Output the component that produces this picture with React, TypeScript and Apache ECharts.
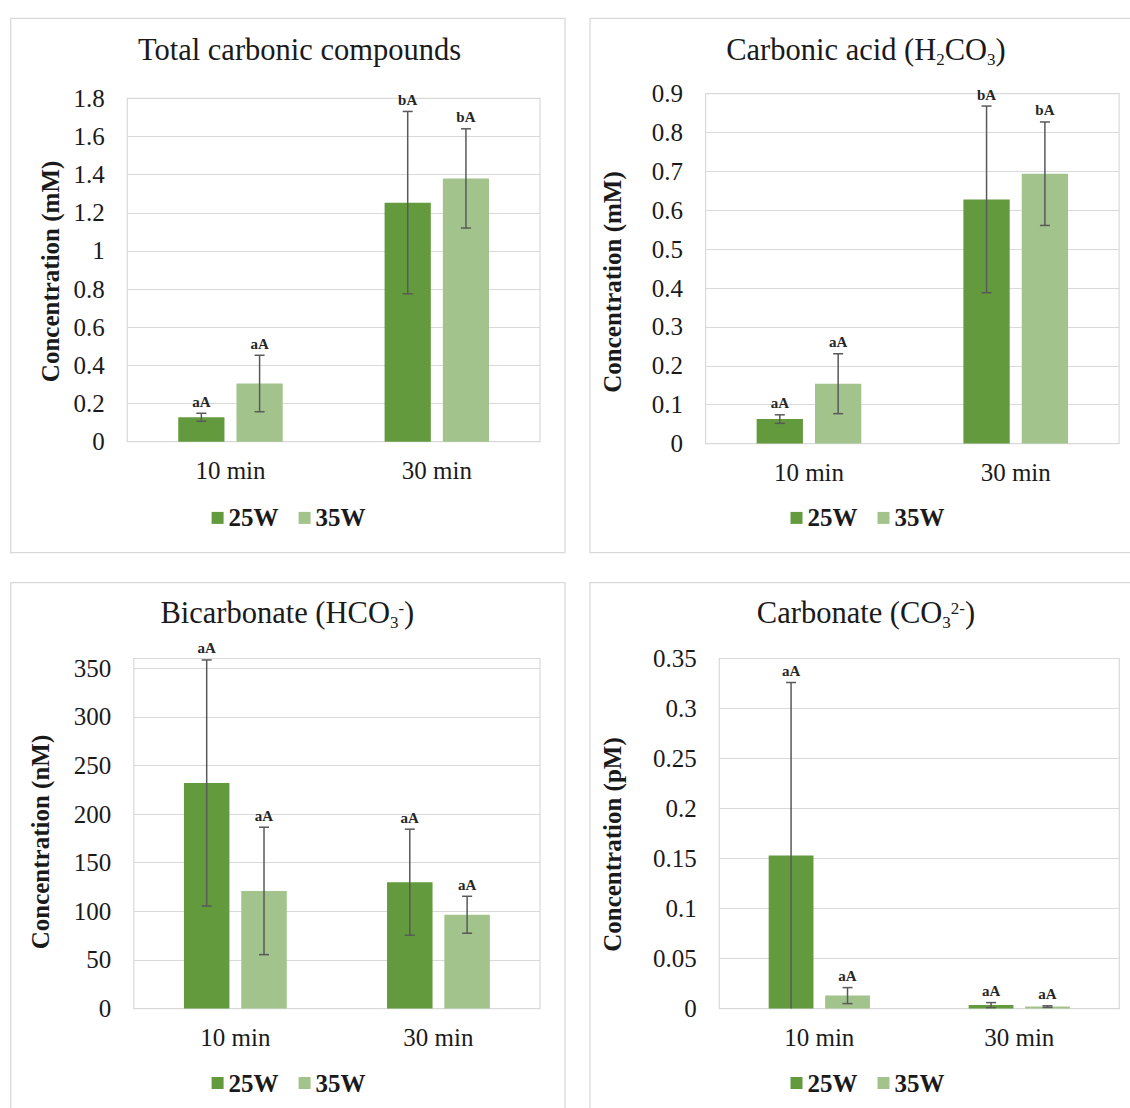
import React, { useEffect, useRef } from "react";
import * as echarts from "echarts";

// ---- data ----
const categories = ["10 min", "30 min"];
const seriesNames = ["25W", "35W"];

// Total carbonic compounds (mM)
const total25 = [0.128, 1.253];
const total25Err = [0.021, 0.478];
const total35 = [0.305, 1.38];
const total35Err = [0.148, 0.26];
const totalSig25 = ["aA", "bA"];
const totalSig35 = ["aA", "bA"];

// Carbonic acid H2CO3 (mM)
const acid25 = [0.063, 0.628];
const acid25Err = [0.011, 0.24];
const acid35 = [0.154, 0.694];
const acid35Err = [0.077, 0.133];
const acidSig25 = ["aA", "bA"];
const acidSig35 = ["aA", "bA"];

// Bicarbonate HCO3- (nM)
const bic25 = [232, 130];
const bic25Err = [126.5, 54.5];
const bic35 = [121, 96.5];
const bic35Err = [65.5, 19];
const bicSig25 = ["aA", "aA"];
const bicSig35 = ["aA", "aA"];

// Carbonate CO3 2- (pM)
const car25 = [0.153, 0.0035];
const car25Err = [0.173, 0.0025];
const car35 = [0.013, 0.002];
const car35Err = [0.008, 0.0008];
const carSig25 = ["aA", "aA"];
const carSig35 = ["aA", "aA"];

// ---- style ----
const SERIF = "'Liberation Serif', 'Times New Roman', serif";
const DARK = "#639a3e";
const LIGHT = "#a2c48c";
const INK = "#1a1a1a";
const RULE = "#d9d9d9";
const BAR_FRAC = 0.224;
const GAP_FRAC = 0.26;

type Panel = {
  grid: { left: number; top: number; width: number; height: number };
  yMax: number;
  yStep: number;
  yLabelMax: number;
  v25: number[];
  e25: number[];
  v35: number[];
  e35: number[];
  s25: string[];
  s35: string[];
  legend: { left: number; top: number };
};

const panels: Panel[] = [
  {
    grid: { left: 127.3, top: 98.3, width: 412.7, height: 343.4 },
    yMax: 1.8, yStep: 0.2, yLabelMax: 1.8,
    v25: total25, e25: total25Err, v35: total35, e35: total35Err,
    s25: totalSig25, s35: totalSig35,
    legend: { left: 211.6, top: 505.4 },
  },
  {
    grid: { left: 705.6, top: 93.6, width: 413.5, height: 350 },
    yMax: 0.9, yStep: 0.1, yLabelMax: 0.9,
    v25: acid25, e25: acid25Err, v35: acid35, e35: acid35Err,
    s25: acidSig25, s35: acidSig35,
    legend: { left: 790.5, top: 505.4 },
  },
  {
    grid: { left: 133.8, top: 658.5, width: 406.2, height: 350.1 },
    yMax: 360, yStep: 50, yLabelMax: 350,
    v25: bic25, e25: bic25Err, v35: bic35, e35: bic35Err,
    s25: bicSig25, s35: bicSig35,
    legend: { left: 211.6, top: 1070.5 },
  },
  {
    grid: { left: 719.3, top: 658.5, width: 400, height: 350.1 },
    yMax: 0.35, yStep: 0.05, yLabelMax: 0.35,
    v25: car25, e25: car25Err, v35: car35, e35: car35Err,
    s25: carSig25, s35: carSig35,
    legend: { left: 790.5, top: 1070.5 },
  },
];

function errorSeries(idx: number, values: number[], errs: number[], sigs: string[], side: number) {
  return {
    type: "custom",
    xAxisIndex: idx,
    yAxisIndex: idx,
    z: 5,
    silent: true,
    data: values.map((v, i) => [i, v, errs[i]]),
    renderItem: (params: any, api: any) => {
      const i = api.value(0);
      const v = api.value(1);
      const e = api.value(2);
      const band = api.size([1, 0])[0];
      const cx = api.coord([i, 0])[0] + (side * band * BAR_FRAC * (1 + GAP_FRAC)) / 2;
      const yTop = api.coord([i, v + e])[1];
      const low = v - e;
      const yBot = api.coord([i, Math.max(low, 0)])[1];
      const st = { stroke: "#595959", lineWidth: 1.5 };
      const children: any[] = [
        { type: "line", shape: { x1: cx, y1: yTop, x2: cx, y2: yBot }, style: st },
        { type: "line", shape: { x1: cx - 5, y1: yTop, x2: cx + 5, y2: yTop }, style: st },
      ];
      if (low >= 0) {
        children.push({ type: "line", shape: { x1: cx - 5, y1: yBot, x2: cx + 5, y2: yBot }, style: st });
      }
      children.push({
        type: "text",
        x: cx,
        y: yTop - 4,
        style: {
          text: sigs[params.dataIndex],
          font: `bold 15px ${SERIF}`,
          fill: "#262626",
          align: "center",
          verticalAlign: "bottom",
          textAlign: "center",
          textVerticalAlign: "bottom",
        },
      });
      return { type: "group", children };
    },
  };
}

// title rich styles: n = normal, b = subscript, p = superscript
const richBase = {
  n: { fontSize: 30.5, fontFamily: SERIF, fill: INK, color: INK, lineHeight: 36 },
  b: { fontSize: 17, fontFamily: SERIF, fill: INK, color: INK, verticalAlign: "bottom" },
  p: { fontSize: 17, fontFamily: SERIF, fill: INK, color: INK, verticalAlign: "top", padding: [4.5, 0, 0, 0] },
};

function titleText(x: number, y: number, text: string) {
  return {
    type: "text",
    x,
    y,
    style: {
      text,
      rich: richBase,
      align: "center",
      verticalAlign: "middle",
      textAlign: "center",
      textVerticalAlign: "middle",
    },
  };
}

function yTitle(x: number, y: number, text: string) {
  return {
    type: "text",
    x,
    y,
    rotation: Math.PI / 2,
    style: {
      text,
      font: `bold 25px ${SERIF}`,
      fill: INK,
      align: "center",
      verticalAlign: "middle",
      textAlign: "center",
      textVerticalAlign: "middle",
    },
  };
}

function frame(x: number, y: number, w: number, h: number) {
  return {
    type: "rect",
    shape: { x, y, width: w, height: h },
    style: { fill: "none", stroke: RULE, lineWidth: 1.3 },
    z: -10,
  };
}

function buildOption() {
  const series: any[] = [];
  panels.forEach((p, idx) => {
    series.push({
      type: "bar",
      name: seriesNames[0],
      xAxisIndex: idx,
      yAxisIndex: idx,
      data: p.v25,
      barWidth: `${BAR_FRAC * 100}%`,
      barGap: `${GAP_FRAC * 100}%`,
      itemStyle: { color: DARK },
      silent: true,
    });
    series.push({
      type: "bar",
      name: seriesNames[1],
      xAxisIndex: idx,
      yAxisIndex: idx,
      data: p.v35,
      barWidth: `${BAR_FRAC * 100}%`,
      barGap: `${GAP_FRAC * 100}%`,
      itemStyle: { color: LIGHT },
      silent: true,
    });
    series.push(errorSeries(idx, p.v25, p.e25, p.s25, -1));
    series.push(errorSeries(idx, p.v35, p.e35, p.s35, 1));
  });

  return {
    animation: false,
    backgroundColor: "#ffffff",
    grid: panels.map((p) => ({
      ...p.grid,
      show: true,
      borderColor: RULE,
      borderWidth: 1.2,
      backgroundColor: "#ffffff",
      containLabel: false,
    })),
    xAxis: panels.map((_, idx) => ({
      type: "category",
      gridIndex: idx,
      data: categories,
      axisTick: { show: false },
      axisLine: { show: true, lineStyle: { color: RULE, width: 1.2 } },
      axisLabel: { fontFamily: SERIF, fontSize: 25, color: INK, margin: 16 },
    })),
    yAxis: panels.map((p, idx) => ({
      type: "value",
      gridIndex: idx,
      min: 0,
      max: p.yMax,
      interval: p.yStep,
      axisLine: { show: false },
      axisTick: { show: false },
      splitLine: { show: true, lineStyle: { color: RULE, width: 1.2 } },
      axisLabel: {
        fontFamily: SERIF,
        fontSize: 25,
        color: INK,
        margin: 22.5,
        formatter: (v: number) => (v > p.yLabelMax + 1e-9 ? "" : String(Number(v.toFixed(4)))),
      },
    })),
    legend: panels.map((p) => ({
      data: seriesNames,
      left: p.legend.left,
      top: p.legend.top,
      padding: 0,
      orient: "horizontal",
      icon: "rect",
      itemWidth: 12,
      itemHeight: 12,
      itemGap: 20,
      selectedMode: false,
      textStyle: { fontFamily: SERIF, fontSize: 25, fontWeight: "bold", color: INK },
    })),
    graphic: [
      frame(10.7, 18.3, 554.3, 534.4),
      frame(590, 18.3, 570, 534.4),
      frame(10.7, 582.7, 554.3, 560),
      frame(590, 582.7, 570, 560),
      titleText(299.5, 50, "{n|Total carbonic compounds}"),
      titleText(866, 50, "{n|Carbonic acid (H}{b|2}{n|CO}{b|3}{n|)}"),
      titleText(287.3, 613.3, "{n|Bicarbonate (HCO}{b|3}{p|-}{n|)}"),
      titleText(866, 613.3, "{n|Carbonate (CO}{b|3}{p|2-}{n|)}"),
      yTitle(50.7, 271.4, "Concentration (mM)"),
      yTitle(612.6, 282, "Concentration (mM)"),
      yTitle(40.3, 842, "Concentration (nM)"),
      yTitle(612.6, 844.5, "Concentration (pM)"),
    ],
    series,
  };
}

export default function App() {
  const ref = useRef<HTMLDivElement>(null);
  useEffect(() => {
    if (!ref.current) return;
    const chart = echarts.init(ref.current, undefined, { renderer: "svg" });
    chart.setOption(buildOption() as any);
    return () => chart.dispose();
  }, []);
  return (
    <div
      ref={ref}
      style={{ position: "absolute", left: 0, top: 0, width: 1130, height: 1108, background: "#fff" }}
    />
  );
}
